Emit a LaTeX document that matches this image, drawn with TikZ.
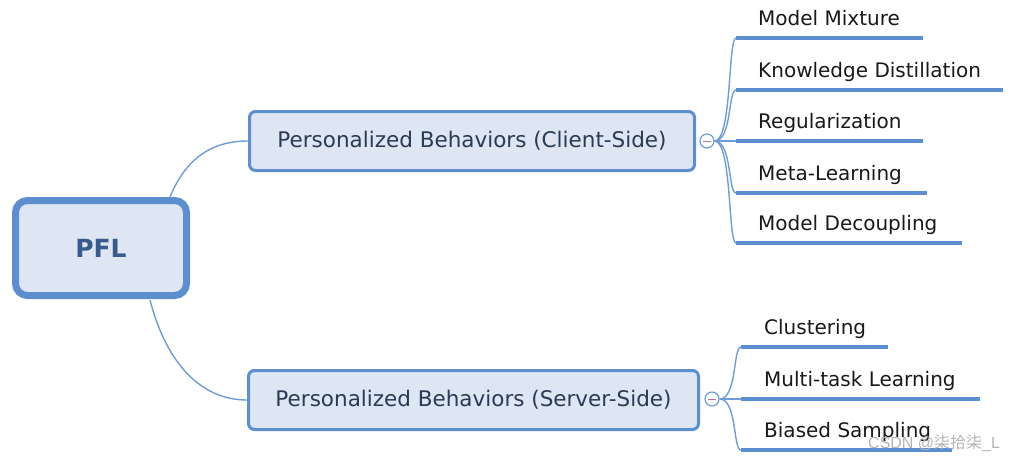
\documentclass[tikz,border=0pt]{standalone}
\usepackage{fontspec}
\usetikzlibrary{calc}
\setmainfont{DejaVu Sans}
\newfontfamily\cjk{Noto Sans CJK SC}
\newfontfamily\wmfont{Liberation Sans}
\definecolor{lineblue}{HTML}{5B8FD0}
\definecolor{curveblue}{HTML}{6E9DD6}
\definecolor{boxfill}{HTML}{DDE6F2}
\definecolor{navytext}{HTML}{2B3A55}
\definecolor{pfltext}{HTML}{3A5A8E}
\definecolor{wm}{HTML}{B4B4B4}
\tikzset{
  rootbox/.style={draw=lineblue, line width=7pt, fill=boxfill, rounded corners=12pt,
    minimum width=171pt, minimum height=95pt, inner sep=0pt,
    font=\fontsize{25}{30}\selectfont\bfseries, text=pfltext},
  mainbox/.style={draw=lineblue, line width=3pt, fill=boxfill, rounded corners=6pt,
    minimum height=59pt, inner sep=0pt, font=\fontsize{21.5}{26}\selectfont, text=navytext},
  togglebox/.style={circle, draw=curveblue, line width=1.2pt, fill=white, minimum size=14pt, inner sep=0pt},
  leaf/.style={anchor=base west, inner sep=0pt, font=\fontsize{20}{24}\selectfont, text=black!90},
  uline/.style={draw=lineblue, line width=4pt},
  curve/.style={draw=curveblue, line width=1.4pt}
}
\begin{document}
\begin{tikzpicture}[x=1pt,y=-1pt]
\useasboundingbox (0,0) rectangle (1016,461);

\node[rootbox] (pfl) at (101,248) {PFL};
\node[mainbox, minimum width=445pt] (client) at (472,141) {Personalized Behaviors (Client-Side)};
\node[mainbox, minimum width=450pt] (server) at (473.5,400) {Personalized Behaviors (Server-Side)};

\coordinate (pflt) at (170,197);
\coordinate (pflb) at (150,300);
\draw[curve] (pflt) .. controls (186,158) and (212,141) .. (client.west);
\draw[curve] (pflb) .. controls (166,362) and (200,400) .. (server.west);

\node[togglebox] (tc) at (707,141) {};
\draw[draw=magenta!40!gray, line width=1pt] ($(tc.center)+(-4,0)$) -- ($(tc.center)+(4,0)$);
\node[togglebox] (ts) at (712,399) {};
\draw[draw=magenta!40!gray, line width=1pt] ($(ts.center)+(-4,0)$) -- ($(ts.center)+(4,0)$);

% client leaves
\foreach \name/\txt/\yy/\xe in {c1/Model Mixture/38/923, c2/Knowledge Distillation/90/1003, c3/Regularization/141/923, c4/Meta-Learning/193/927, c5/Model Decoupling/243/962}{
  \coordinate (\name s) at (736,\yy);
  \coordinate (\name e) at (\xe,\yy);
  \node[leaf] (\name) at (758,\yy-12.5) {\txt};
  \draw[uline] (\name s) -- (\name e);
  \draw[curve] (tc.east) .. controls (732,141) and (728,\yy) .. (\name s);
}
% server leaves
\foreach \name/\txt/\yy/\xe in {s1/Clustering/347/888, s2/Multi-task Learning/399/980, s3/Biased Sampling/450/952}{
  \coordinate (\name s) at (741,\yy);
  \coordinate (\name e) at (\xe,\yy);
  \node[leaf] (\name) at (764,\yy-12.5) {\txt};
  \draw[uline] (\name s) -- (\name e);
  \draw[curve] (ts.east) .. controls (737,399) and (733,\yy) .. (\name s);
}

\node[anchor=west, inner sep=0pt, text=wm, font=\wmfont\fontsize{16}{18}\selectfont] (wmk) at (868,443) {CSDN @{\cjk 柒拾柒}\_L};
\end{tikzpicture}
\end{document}
